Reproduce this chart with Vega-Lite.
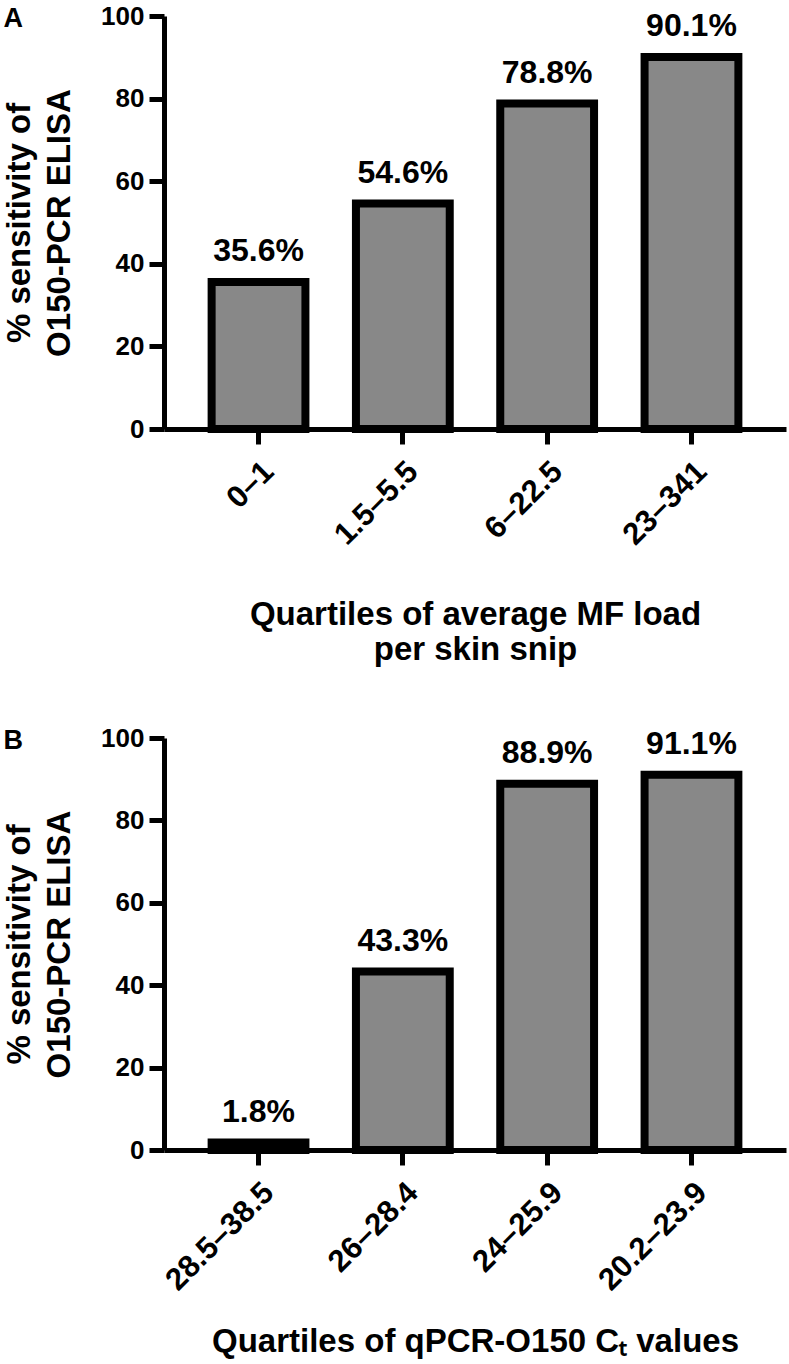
{
  "$schema": "https://vega.github.io/schema/vega-lite/v6.json",
  "padding": {"left": 3, "top": 3, "right": 2, "bottom": 2},
  "background": "white",
  "spacing": 58,
  "datasets": {
    "a": [
      {"q": "0–1", "v": 35.6, "lab": "35.6%"},
      {"q": "1.5–5.5", "v": 54.6, "lab": "54.6%"},
      {"q": "6–22.5", "v": 78.8, "lab": "78.8%"},
      {"q": "23–341", "v": 90.1, "lab": "90.1%"}
    ],
    "b": [
      {"q": "28.5–38.5", "v": 1.8, "lab": "1.8%"},
      {"q": "26–28.4", "v": 43.3, "lab": "43.3%"},
      {"q": "24–25.9", "v": 88.9, "lab": "88.9%"},
      {"q": "20.2–23.9", "v": 91.1, "lab": "91.1%"}
    ]
  },
  "config": {
    "font": "Liberation Sans",
    "view": {"stroke": null},
    "axis": {
      "grid": false,
      "domainColor": "black",
      "domainWidth": 5,
      "tickColor": "black",
      "tickWidth": 5,
      "tickSize": 15,
      "labelFont": "Liberation Sans",
      "labelFontWeight": "bold",
      "labelFontSize": 26,
      "labelColor": "black",
      "titleFont": "Liberation Sans",
      "titleFontWeight": "bold",
      "titleFontSize": 33,
      "titleColor": "black"
    },
    "title": {
      "font": "Liberation Sans",
      "fontSize": 27,
      "fontWeight": "bold",
      "color": "black",
      "anchor": "start",
      "frame": "bounds",
      "offset": -30
    }
  },
  "vconcat": [
    {
      "title": {"text": "A"},
      "width": 622,
      "height": 413,
      "data": {"name": "a"},
      "encoding": {
        "x": {
          "field": "q", "type": "nominal", "sort": null,
          "scale": {"paddingInner": 0.35, "paddingOuter": 0.33},
          "axis": {"labelAngle": -45, "labelFontSize": 31, "labelPadding": 12, "title": ["Quartiles of average MF load", "per skin snip"], "titlePadding": 48, "titleLineHeight": 35}
        },
        "y": {
          "field": "v", "type": "quantitative",
          "scale": {"domain": [0, 100]},
          "axis": {"values": [0, 20, 40, 60, 80, 100], "title": ["% sensitivity of", "O150-PCR ELISA"], "titlePadding": 24, "labelPadding": 5, "titleLineHeight": 40}
        }
      },
      "layer": [
        {"mark": {"type": "bar", "color": "#888888", "stroke": "black", "strokeWidth": 8}},
        {"mark": {"type": "text", "baseline": "alphabetic", "dy": -21, "fontSize": 32, "fontWeight": "bold", "color": "black", "font": "Liberation Sans"},
         "encoding": {"text": {"field": "lab"}}}
      ]
    },
    {
      "title": {"text": "B"},
      "width": 622,
      "height": 412,
      "data": {"name": "b"},
      "encoding": {
        "x": {
          "field": "q", "type": "nominal", "sort": null,
          "scale": {"paddingInner": 0.35, "paddingOuter": 0.33},
          "axis": {"labelAngle": -45, "labelFontSize": 31, "labelPadding": 12, "title": "Quartiles of qPCR-O150 Cₜ values", "titlePadding": 30}
        },
        "y": {
          "field": "v", "type": "quantitative",
          "scale": {"domain": [0, 100]},
          "axis": {"values": [0, 20, 40, 60, 80, 100], "title": ["% sensitivity of", "O150-PCR ELISA"], "titlePadding": 24, "labelPadding": 5, "titleLineHeight": 40}
        }
      },
      "layer": [
        {"mark": {"type": "bar", "color": "#888888", "stroke": "black", "strokeWidth": 8}},
        {"mark": {"type": "text", "baseline": "alphabetic", "dy": -21, "fontSize": 32, "fontWeight": "bold", "color": "black", "font": "Liberation Sans"},
         "encoding": {"text": {"field": "lab"}}}
      ]
    }
  ]
}
